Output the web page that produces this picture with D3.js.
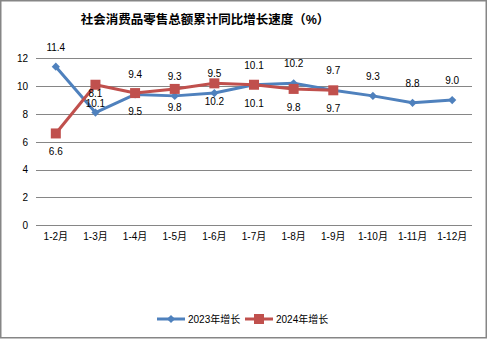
<!DOCTYPE html>
<html>
<head>
<meta charset="utf-8">
<script src="https://cdn.jsdelivr.net/npm/d3@7"></script>
<style>
  html, body { margin: 0; padding: 0; background: #fff; }
  svg { display: block; }
  text { font-family: "Liberation Sans", "Noto Sans CJK SC", sans-serif; }
</style>
</head>
<body>
<svg id="chart" width="488" height="339"></svg>
<script>
const categories = ["1-2月", "1-3月", "1-4月", "1-5月", "1-6月", "1-7月", "1-8月", "1-9月", "1-10月", "1-11月", "1-12月"];
const growth2023 = [11.4, 8.1, 9.4, 9.3, 9.5, 10.1, 10.2, 9.7, 9.3, 8.8, 9.0];
const growth2024 = [6.6, 10.1, 9.5, 9.8, 10.2, 10.1, 9.8, 9.7];
const yTicks = [0, 2, 4, 6, 8, 10, 12];
const seriesNames = ["2023年增长", "2024年增长"];

const W = 488, H = 339;
const svg = d3.select("#chart");

// outer frame
svg.append("rect")
  .attr("x", 0.75).attr("y", 0.75)
  .attr("width", W - 2.5).attr("height", H - 2)
  .attr("fill", "#fff").attr("stroke", "#868686").attr("stroke-width", 1.5);

const plot = { left: 36, right: 472, top: 58.3, bottom: 225.3 };

const x = d3.scaleBand().domain(categories).range([plot.left, plot.right]);
const y = d3.scaleLinear().domain([0, 12]).range([plot.bottom, plot.top]);
const cx = c => x(c) + x.bandwidth() / 2;

// title
svg.append("text")
  .attr("x", 205).attr("y", 23.5)
  .attr("text-anchor", "middle")
  .attr("font-family", "Noto Sans CJK SC")
  .attr("font-weight", "bold")
  .attr("font-size", 12.5)
  .attr("fill", "#000")
  .text("社会消费品零售总额累计同比增长速度（%）");

// horizontal gridlines
svg.append("g").selectAll("line").data(yTicks).join("line")
  .attr("x1", plot.left).attr("x2", plot.right)
  .attr("y1", d => Math.round(y(d)) + 0.5).attr("y2", d => Math.round(y(d)) + 0.5)
  .attr("stroke", "#868686").attr("stroke-width", 1);

// y axis labels
const yAxis = d3.axisLeft(y).tickValues(yTicks).tickSize(0).tickPadding(8);
const yg = svg.append("g").attr("transform", `translate(${plot.left},0)`).call(yAxis);
yg.select(".domain").remove();
yg.selectAll("text").attr("font-size", 10).attr("fill", "#000")
  .attr("font-family", "Liberation Sans, sans-serif");

// x axis labels
const xAxis = d3.axisBottom(x).tickSize(0).tickPadding(8);
const xg = svg.append("g").attr("transform", `translate(0,${plot.bottom})`).call(xAxis);
xg.select(".domain").remove();
xg.selectAll("text").attr("font-size", 10).attr("fill", "#000")
  .attr("font-family", "Liberation Sans, Noto Sans CJK SC, sans-serif");

const blue = "#4F81BD", red = "#C0504D";
const line = d3.line().x((d, i) => cx(categories[i])).y(d => y(d));

// 2023 series
svg.append("path").datum(growth2023)
  .attr("d", line).attr("fill", "none")
  .attr("stroke", blue).attr("stroke-width", 3).attr("stroke-linejoin", "round");

// 2024 series
svg.append("path").datum(growth2024)
  .attr("d", line).attr("fill", "none")
  .attr("stroke", red).attr("stroke-width", 3).attr("stroke-linejoin", "round");

const diamond = d3.symbol().type(d3.symbolSquare).size(34);
svg.append("g").selectAll("path").data(growth2023).join("path")
  .attr("d", diamond)
  .attr("transform", (d, i) => `translate(${cx(categories[i])},${y(d)}) rotate(45)`)
  .attr("fill", blue);

svg.append("g").selectAll("rect").data(growth2024).join("rect")
  .attr("x", (d, i) => cx(categories[i]) - 5)
  .attr("y", d => y(d) - 5)
  .attr("width", 10).attr("height", 10)
  .attr("fill", red);

// value labels: 2023 above, 2024 below
svg.append("g").selectAll("text").data(growth2023).join("text")
  .attr("x", (d, i) => cx(categories[i]))
  .attr("y", d => y(d) - 16)
  .attr("text-anchor", "middle")
  .attr("font-size", 10).attr("fill", "#000")
  .text(d => d.toFixed(1));

svg.append("g").selectAll("text").data(growth2024).join("text")
  .attr("x", (d, i) => cx(categories[i]))
  .attr("y", d => y(d) + 22)
  .attr("text-anchor", "middle")
  .attr("font-size", 10).attr("fill", "#000")
  .text(d => d.toFixed(1));

// legend
const legend = svg.append("g").attr("transform", "translate(157,319)");
const items = [
  { name: seriesNames[0], color: blue, marker: "diamond", x0: 0 },
  { name: seriesNames[1], color: red, marker: "square", x0: 88 }
];
items.forEach(it => {
  const g = legend.append("g").attr("transform", `translate(${it.x0},0)`);
  g.append("line").attr("x1", 0).attr("x2", 28).attr("y1", 0).attr("y2", 0)
    .attr("stroke", it.color).attr("stroke-width", 3);
  if (it.marker === "diamond") {
    g.append("path").attr("d", diamond).attr("transform", "translate(14,0) rotate(45)").attr("fill", it.color);
  } else {
    g.append("rect").attr("x", 9).attr("y", -5).attr("width", 10).attr("height", 10).attr("fill", it.color);
  }
  g.append("text").attr("x", 31).attr("y", 3.8)
    .attr("font-size", 10).attr("fill", "#000")
    .attr("font-family", "Liberation Sans, Noto Sans CJK SC, sans-serif")
    .text(it.name);
});
</script>
</body>
</html>
